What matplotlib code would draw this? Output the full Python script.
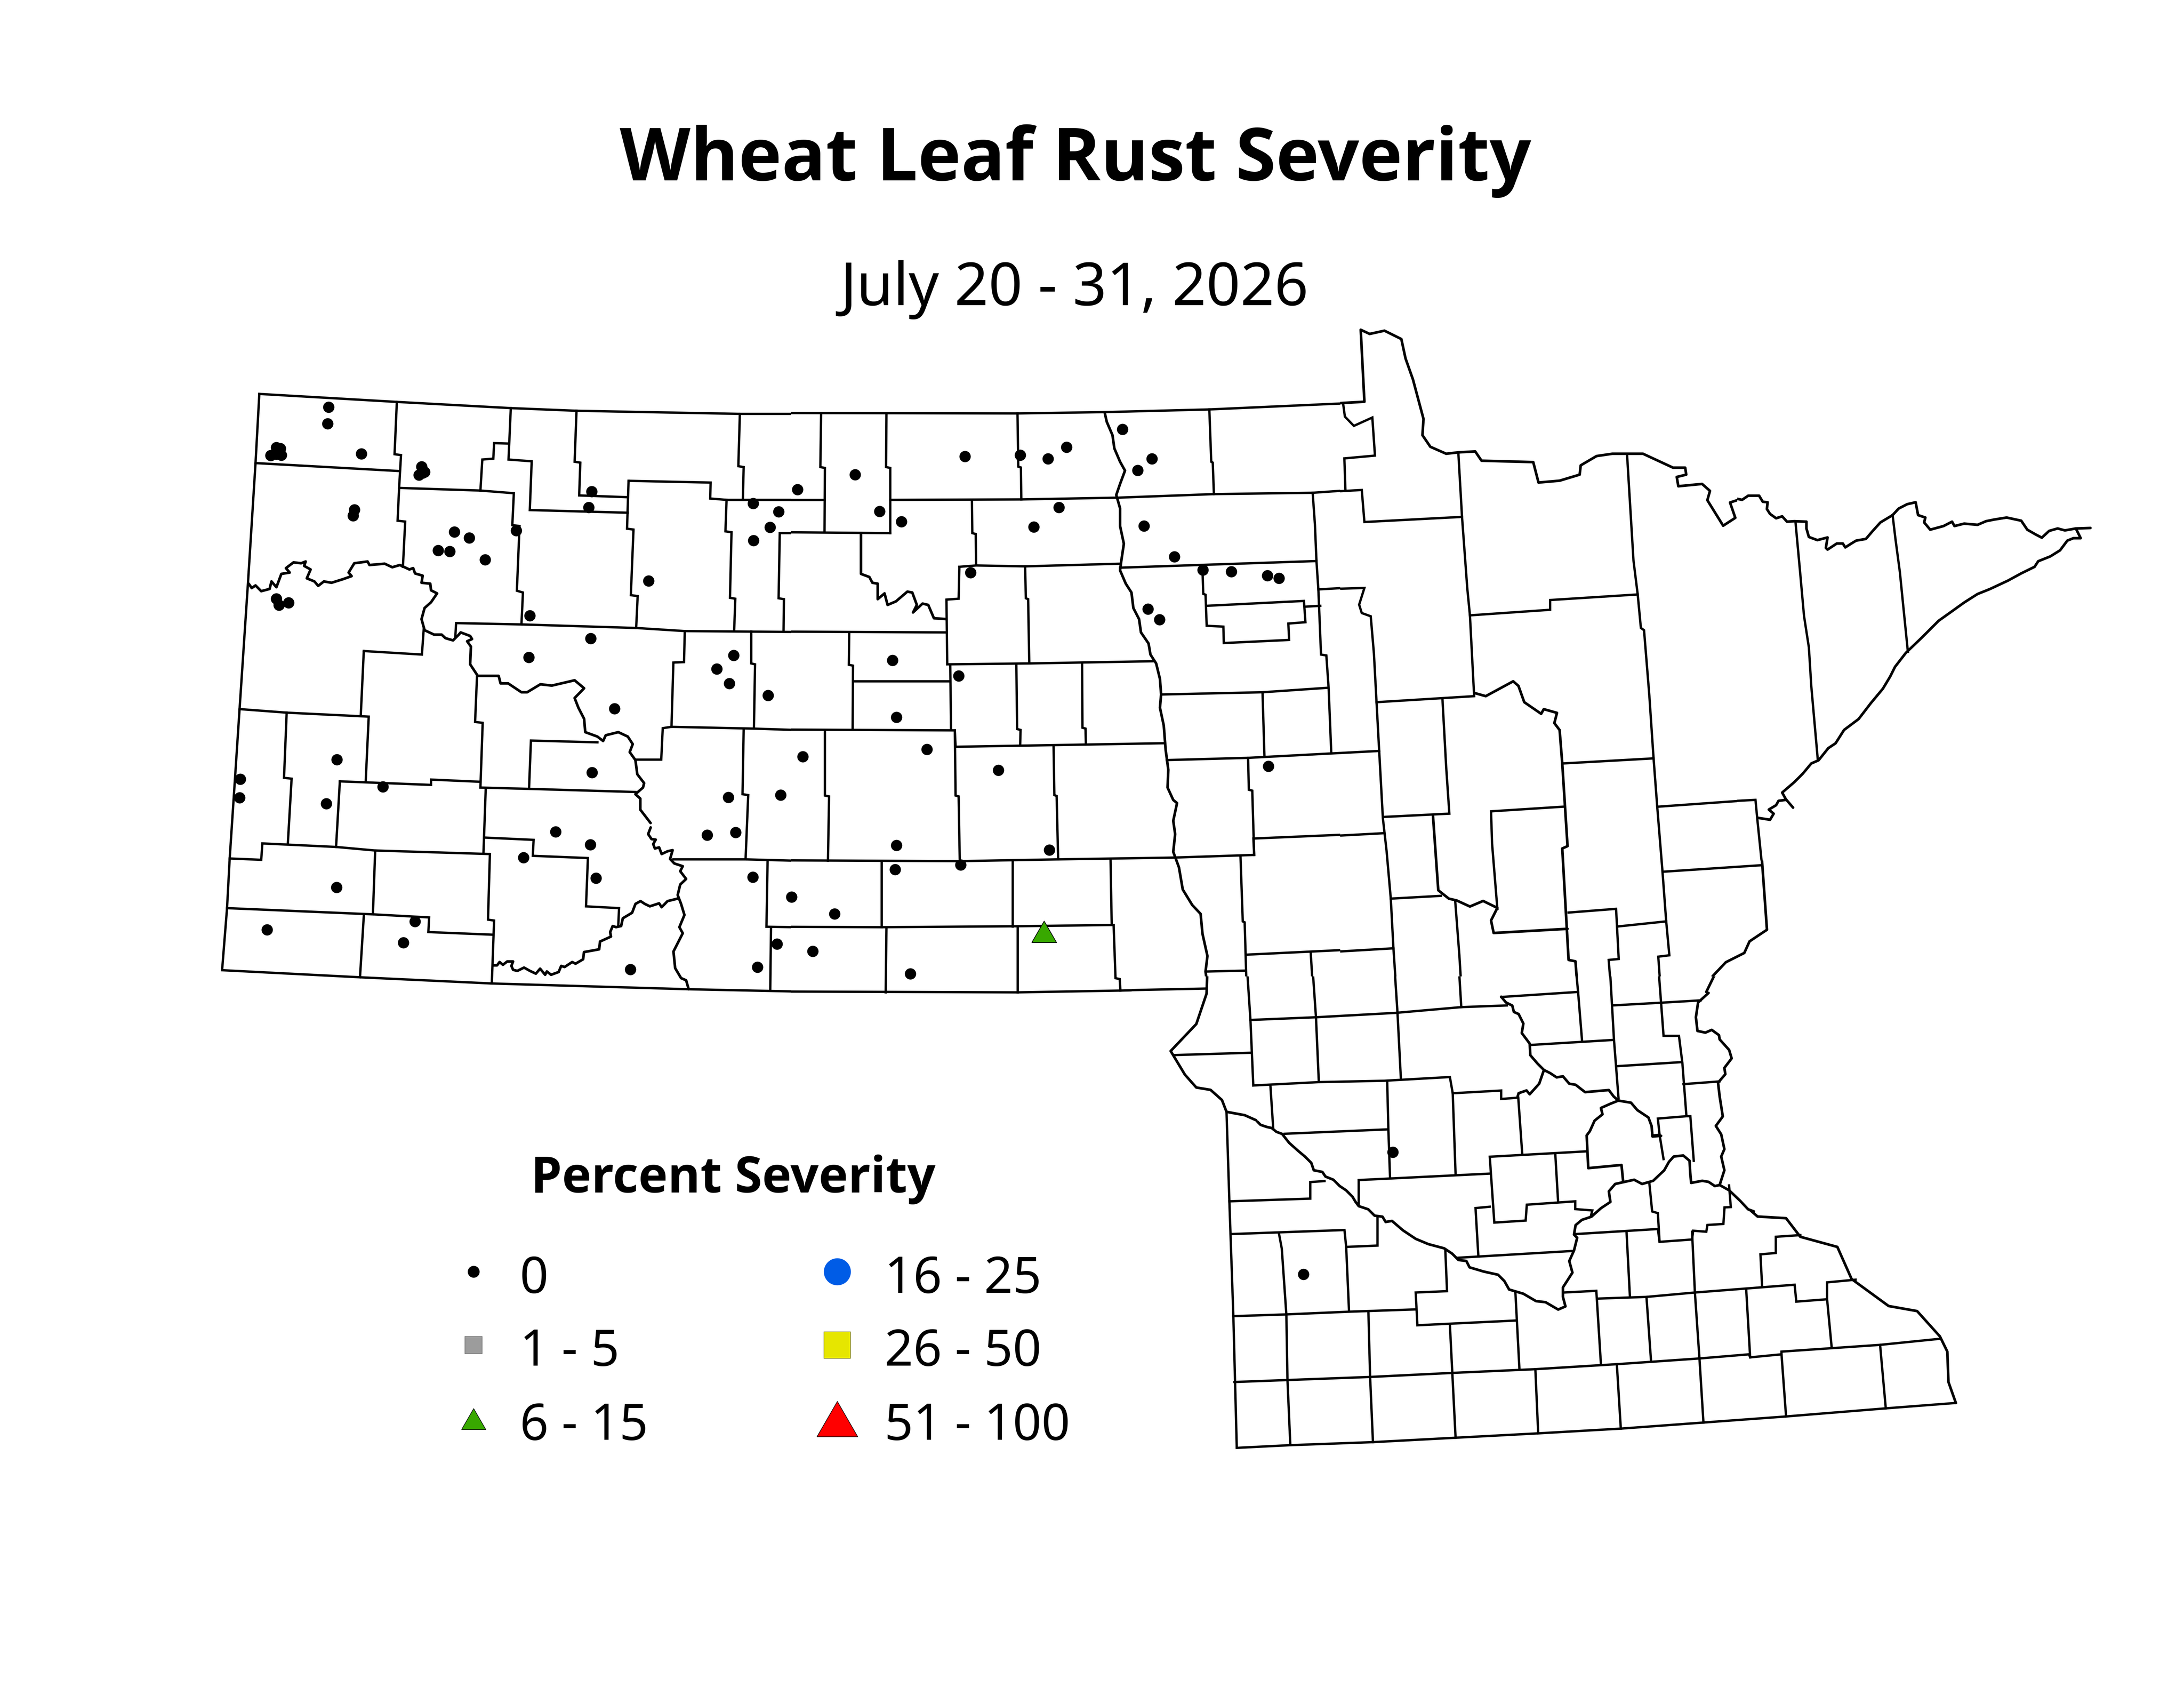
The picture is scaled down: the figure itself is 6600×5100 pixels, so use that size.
import numpy as np
import matplotlib
matplotlib.use('Agg')
import matplotlib.pyplot as plt
from matplotlib.patches import Rectangle

# map outlines were traced in pieces, each piece has its own grid (x0, y0, x scale, y scale)
GRID_W = (600, 1000, 1800 / 1568, 2100 / 1568)
GRID_C = (2300, 1000, 1800 / 1568, 2100 / 1568)
GRID_N = (3900, 950, 2500 / 1568, 2200 / 1568)
GRID_S = (3400, 2900, 2700 / 1568, 1600 / 1568)
GRID_M = (3800, 3000, 1500 / 1568, 1000 / 1568)
GRID_E = (5250, 1450, 1150 / 1568, 1150 / 1568)
GRID_L = (1400, 2500, 800 / 1568, 500 / 1494)

west_lines = [
    [(160,142),(522,160),(822,174),(995,180),(1425,187),(1568,187)],
    [(160,142),(150,298),(130,570),(108,853),(82,1190),(75,1302),(62,1442),(425,1458),(772,1472),(1290,1485),(1568,1490)],
    [(150,298),(528,316)],
    [(522,160),(516,278),(533,280),(528,354),(524,428),(544,430),(538,532)],
    [(528,354),(742,360),(830,366),(826,438),(845,440),(838,586),(854,590),(850,662)],
    [(742,360),(747,290),(776,288),(778,253),(816,254)],
    [(822,174),(816,290),(877,294),(872,404),(1130,410)],
    [(995,180),(990,295),(1005,297),(1002,371),(1130,375)],
    [(1132,338),(1348,342),(1347,378),(1390,381),(1568,381)],
    [(1132,338),(1128,446),(1145,448),(1138,596),(1156,598),(1152,670)],
    [(1425,187),(1421,305),(1435,307),(1433,378)],
    [(1390,381),(1387,452),(1403,454),(1399,602),(1413,604),(1410,676)],
    [(1568,456),(1530,456),(1527,603),(1541,605),(1540,678)],
    [(676,690),(678,659),(850,662),(1152,670),(1280,677),(1568,679)],
    [(1250,1192),(1440,1192),(1568,1195)],
    [(435,722),(588,730),(593,670)],
    [(435,722),(427,868)],
    [(108,853),(232,861),(448,870),(440,1017)],
    [(232,861),(225,1008),(245,1010),(235,1157)],
    [(372,1016),(612,1024),(612,1012),(742,1017)],
    [(372,1016),(362,1164)],
    [(82,1190),(165,1193),(168,1156),(362,1164),(465,1172),(767,1180)],
    [(465,1172),(459,1316)],
    [(75,1302),(459,1316),(607,1323),(605,1356),(776,1362)],
    [(435,1320),(425,1458)],
    [(767,1180),(762,1328),(778,1330),(772,1472)],
    [(756,1033),(750,1178)],
    [(733,780),(728,882),(748,884),(742,1030),(870,1033),(1150,1040)],
    [(1050,928),(875,924),(870,1033)],
    [(756,1143),(882,1148),(880,1184),(1025,1189),(1020,1298),(1107,1302),(1105,1340)],
    [(1280,677),(1278,747),(1250,748),(1245,893),(1222,896),(1218,967),(1150,967)],
    [(1245,893),(1460,897),(1568,900)],
    [(1455,678),(1455,750),(1465,752),(1462,897)],
    [(1435,900),(1432,1045),(1447,1047),(1440,1192)],
    [(1498,1197),(1495,1344),(1568,1345)],
    [(1507,1347),(1505,1488)],
]

# Missouri river / Lake Sakakawea
west_rivers = [
    [(132,570),(140,580),(150,574),(165,587),(187,582),(192,565),(205,578),(218,548),(240,545),(230,535),(250,522),(270,524),
     (282,520),(278,530),(295,538),(285,558),(305,565),(315,575),(330,565),(350,568),(380,560),(403,553),(395,545),(410,524),
     (445,520),(450,528),(490,525),(510,533),(530,528),(555,538),(565,535),(570,547),(590,552),(587,568),(610,570),(612,585),
     (628,592),(612,612),(595,625),(587,650),(595,675),(620,685),(640,685),(650,693),(670,698),(685,685),(690,680),(715,688),
     (720,695),(707,700),(717,712),(715,752),(735,778),(790,778),(795,795),(815,795),(850,815),(865,815),(900,797),(930,800),
     (990,788),(1015,806),(990,828),(1000,850),(1015,875),(1018,905),(1050,915),(1065,925),(1072,912),(1105,905),(1130,915),
     (1143,932),(1135,950),(1150,968),(1155,1000),(1173,1020),(1170,1030),(1150,1045),(1163,1055),(1163,1080),(1190,1110)],
]

lower_rivers = [
    [(1110,0),(1095,60),(1115,105),(1140,110),(1125,150),(1135,190),(1160,180),(1175,240),(1210,215),(1240,205),(1225,285),(1250,325),
     (1300,350),(1285,395),(1320,465),(1285,515),(1270,610),(1290,690),(1310,790),(1280,900),(1300,955),(1245,1120),(1255,1270),
     (1290,1360),(1320,1380),(1335,1460)],
    [(1275,640),(1250,650),(1210,665),(1175,720),(1160,685),(1105,712),(1075,690),(1050,665),(1020,690),(1000,770),(945,820),(935,890),
     (905,900),(885,890),(870,945),(875,985),(810,1030),(805,1100),(770,1110),(715,1125),(710,1190),(665,1230),(645,1215),(600,1260),
     (580,1250),(565,1305),(520,1330),(495,1300),(485,1330),(455,1275),(430,1320),(395,1295),(360,1265),(320,1295),(295,1285),(285,1250),
     (295,1210),(260,1210),(235,1240),(215,1215),(200,1245),(178,1245)],
]

central_lines = [
    [(0,185),(675,186),(905,183),(1180,177),(1568,162)],
    [(158,187),(156,307),(168,309),(167,454)],
    [(330,187),(329,307),(340,309),(340,456)],
    [(675,186),(677,306),(684,308),(685,380)],
    [(0,381),(167,381)],
    [(340,381),(685,380),(940,376),(1192,368),(1452,365),(1568,358)],
    [(1180,177),(1185,295),(1189,297),(1192,368)],
    [(50,454),(340,456)],
    [(50,454),(47,603),(60,605),(60,677)],
    [(555,382),(556,456),(565,458),(566,528)],
    [(522,532),(566,529),(695,531),(945,525)],
    [(945,534),(1150,528),(1462,519)],
    [(522,532),(520,604),(488,606),(490,752),(705,750),(1035,745)],
    [(695,531),(697,603),(703,605),(706,750)],
    [(0,678),(488,680)],
    [(232,680),(231,753),(242,755),(241,899)],
    [(243,790),(497,790)],
    [(498,755),(500,900)],
    [(0,899),(510,901),(512,938),(1060,930)],
    [(510,901),(512,1048),(520,1050),(523,1195)],
    [(168,901),(168,1048),(179,1050),(176,1195)],
    [(0,1194),(523,1196),(782,1192),(1085,1188),(1298,1182),(1296,1145),(1568,1135)],
    [(672,755),(674,898),(683,900),(682,935)],
    [(845,750),(846,895),(854,897),(855,933)],
    [(770,938),(772,1047),(778,1049),(782,1192)],
    [(1056,820),(1320,815),(1490,805)],
    [(1320,815),(1325,958)],
    [(1068,968),(1282,963),(1568,950)],
    [(1282,963),(1284,1035),(1293,1037),(1298,1182)],
    [(1452,365),(1458,437),(1462,519),(1467,583),(1474,730),(1488,732),(1494,805),(1501,952)],
    [(1467,583),(1568,578)],
    [(1432,622),(1472,620)],
    [(1162,540),(1164,593),(1170,595),(1173,665),(1217,667),(1218,704),(1390,697),(1388,660),(1433,657),(1429,609),(1173,620)],
    [(15,1197),(14,1344),(315,1345),(662,1343),(928,1340)],
    [(317,1198),(317,1345)],
    [(662,1198),(662,1343)],
    [(920,1195),(923,1340)],
    [(928,1340),(933,1460),(944,1462),(946,1488)],
    [(28,1347),(25,1490)],
    [(330,1347),(328,1492)],
    [(675,1348),(675,1492)],
    [(0,1490),(675,1492),(946,1488),(1175,1483)],
    [(1262,1185),(1268,1332),(1273,1334),(1278,1480),(1282,1482),(1288,1568)],
    [(1172,1445),(1275,1443)],
    [(1278,1407),(1568,1395)],
    [(1447,1404),(1452,1475),(1456,1477),(1460,1552)],
    [(1288,1556),(1568,1545)],
    [(1538,357),(1535,285),(1568,283)],
    [(1532,165),(1535,190),(1550,208),(1568,214)],
]

central_rivers = [
    [(263,456),(263,548),(285,555),(293,568),(307,570),(307,605),(325,592),(333,618),(355,610),(385,588),(398,590),(410,618),
     (400,635),(425,615),(440,618),(455,648),(488,650)],
    # Red River
    [(905,186),(910,205),(925,235),(930,265),(945,295),(958,315),(945,345),(935,370),(945,400),(945,440),(955,480),(948,520),
     (945,540),(960,570),(975,590),(980,625),(995,650),(1000,680),(1020,705),(1025,730),(1040,750),(1050,785),(1053,820),
     (1050,850),(1060,890),(1065,945),(1072,990),(1070,1030),(1085,1058),(1095,1065),(1085,1105),(1090,1135),(1085,1175),
     (1100,1210),(1110,1260),(1135,1295),(1157,1315),(1162,1360),(1175,1410),(1170,1445),(1177,1490),(1170,1530),(1145,1568)],
]

north_lines = [
    [(318,297),(325,436),(140,447),(135,378),(43,384),(0,384)],
    [(100,195),(103,220),(120,240),(155,222),(160,304),(102,310),(104,378)],
    [(325,436),(335,590),(340,648),(492,636),(492,615),(658,603)],
    [(340,648),(348,822),(163,835)],
    [(638,305),(650,530),(658,603),(664,675),(670,680),(680,820),(688,955),(695,1060),(705,1200),(712,1307),(718,1380),(697,1383),
     (703,1480),(707,1550),(738,1550)],
    [(43,384),(48,530),(55,592),(63,733),(70,805),(76,945)],
    [(0,533),(48,530)],
    [(55,592),(140,589),(130,625),(135,643),(152,650),(158,730),(163,835),(168,940),(175,1085),(182,1155),(190,1258),(195,1365),
     (203,1500),(205,1568)],
    [(0,620),(25,618),(27,665),(0,667)],
    [(27,628),(55,628)],
    [(0,810),(70,805)],
    [(0,950),(168,940)],
    [(0,1128),(178,1117)],
    [(288,830),(295,975),(301,1075),(178,1082)],
    [(190,1258),(285,1252)],
    [(312,1262),(320,1380),(326,1492)],
    [(515,967),(688,956)],
    [(517,1060),(380,1070),(382,1140),(392,1280)],
    [(527,1288),(617,1280),(622,1388),(603,1390),(610,1490),(615,1568)],
    [(620,1318),(712,1307)],
    [(0,1378),(195,1365)],
    [(38,1378),(43,1445),(47,1520),(50,1568)],
    [(0,1518),(203,1500),(412,1487),(397,1470),(545,1458)],
    [(610,1488),(778,1476)],
    [(697,1060),(882,1045),(888,1088)],
    [(707,1200),(893,1186)],
    [(550,1560),(615,1553)],
]

north_rivers = [
    [(0,197),(140,188),(133,33),(150,42),(178,35),(210,53),(218,95),(232,140),(252,225),(250,260),(265,285),(295,300),(318,297),
     (350,295),(362,315),(460,318),(470,362),(510,358),(548,345),(550,325),(580,305),(610,300),(668,300),(725,330),(748,330),
     (750,345),(732,350),(735,370),(780,365),(795,380),(790,400),(820,455),(843,438),(833,405),(860,395)],
    [(270,1080),(280,1240),(300,1258),(315,1262),(340,1275),(365,1263),(392,1278),(380,1305),(385,1332),(525,1323)],
    [(348,815),(370,822),(422,790),(432,800),(443,835),(475,860),(480,850),(505,858),(500,880),(510,895),(515,967),(525,1145),
     (515,1150),(527,1390),(540,1393),(552,1568)],
    [(888,1088),(903,1325),(870,1350),(860,1375),(825,1395),(800,1425),(795,1450),(778,1478),(770,1490),(770,1535),(800,1545),(815,1568)],
    [(397,1470),(430,1510),(440,1550),(450,1568)],
]

# arrowhead, border and north shore
east_lines = [
    [(240,175),(258,370),(275,560),(295,690),(305,850),(332,1155)],
    [(640,145),(652,245),(670,380),(685,530),(703,708)],
    [(0,1322),(75,1318),(82,1392),(100,1568)],
]

east_rivers = [
    [(0,78),(20,82),(45,65),(90,65),(105,90),(125,92),(122,120),(135,140),(160,158),(185,150),(205,172),(235,170),(285,172),(285,200),
     (295,235),(330,248),(372,237),(365,280),(372,287),(410,262),(435,262),(445,278),(470,262),(490,250),(530,243),(560,208),(590,175),
     (640,145),(665,118),(700,100),(735,92),(745,145),(775,155),(770,175),(795,205),(850,190),(885,172),(895,190),(935,180),(990,185),
     (1025,170),(1060,163),(1110,155),(1170,168),(1195,205),(1230,225),(1255,238),(1285,210),(1320,200),(1350,208),(1395,200),(1455,198)],
    [(1395,200),(1415,240),(1385,240),(1360,250),(1330,290),(1290,315),(1240,335),(1225,358),(1170,385),(1115,415),(1040,450),(990,470),(935,505),
     (875,548),(830,580),(760,650),(695,712),(650,770),(630,810),(600,860),(550,920),(500,985),(440,1030),(405,1085),(375,1105),(335,1155),
     (305,1168),(270,1210),(235,1245),(185,1288),(200,1315),(230,1350)],
    [(200,1318),(170,1322),(160,1340),(130,1358),(150,1375),(135,1400),(85,1392)],
]

south_lines = [
    [(196,1445),(290,1437),(435,1428),(580,1415),(725,1402),(870,1388),(1015,1370),(1160,1352),(1335,1328),(1458,1312)],
    [(192,1250),(430,1235),(575,1223),(720,1212),(865,1197),(1010,1180),(1095,1168),(1097,1177),(1152,1168),(1152,1160),(1325,1140),(1430,1122)],
    [(178,450),(183,715),(185,812),(190,1055),(196,1445)],
    [(290,1437),(285,1245),(283,1050),(275,855),(270,810)],
    [(435,1428),(430,1235),(427,1042)],
    [(580,1415),(570,1080)],
    [(725,1402),(720,1212)],
    [(870,1388),(863,1197)],
    [(1015,1370),(1008,1180)],
    [(1160,1352),(1152,1168)],
    [(1335,1328),(1325,1140)],
    [(190,1055),(280,1050),(390,1042),(510,1035)],
    [(562,860),(565,981),(510,985),(513,1082),(685,1068)],
    [(685,985),(692,1210)],
    [(770,985),(827,980),(835,1195)],
    [(830,1003),(915,998),(1000,985),(1175,962),(1178,1012),(1232,1005),(1232,955),(1282,947)],
    [(915,998),(923,1187)],
    [(1000,985),(1008,1180)],
    [(1090,975),(1097,1177)],
    [(1232,1005),(1240,1147)],
    [(1118,968),(1115,872),(1142,868),(1142,820),(1185,815)],
    [(995,805),(1000,985)],
    [(880,805),(886,998)],
    [(790,812),(935,797),(938,835),(995,828),(997,802),(1020,805),(1022,785),(1050,782),(1052,733),(1063,732),(1060,668)],
    [(920,660),(925,745),(935,750),(938,835)],
    [(185,812),(385,800),(388,850),(443,846),(443,760)],
    [(183,715),(325,707),(325,658),(350,655)],
    [(388,850),(393,1040)],
    [(410,725),(410,652),(640,633)],
    [(640,731),(615,735),(620,878)],
    [(585,882),(785,862)],
    [(810,567),(640,583),(648,778),(703,772),(705,725),(790,715),(790,738),(820,742),(818,755)],
    [(755,575),(760,718)],
    [(460,360),(462,500),(465,645)],
    [(280,515),(460,502)],
    [(255,372),(260,500)],
    [(225,372),(340,362),(455,358),(570,347),(575,395),(660,387),(660,412),(690,408),(697,575)],
    [(575,395),(580,635)],
    [(225,372),(220,178),(213,0)],
    [(220,178),(335,170),(475,157),(590,140),(670,135)],
    [(86,282),(222,275)],
    [(340,362),(335,170),(328,0)],
    [(484,352),(478,155),(472,0)],
    [(590,140),(585,0)],
    [(143,35),(212,30)],
    [(0,90),(143,85)],
    [(660,110),(795,95),(802,240)],
    [(795,95),(790,5),(782,0)],
    [(712,252),(858,237)],
    [(850,0),(858,237),(866,410)],
    [(855,135),(940,127),(1010,120)],
    [(935,0),(945,225),(972,225),(978,305),(985,460)],
    [(862,315),(975,303)],
    [(980,368),(1043,360)],
    [(985,463),(935,470),(938,518),(925,520)],
    [(985,463),(992,463),(998,595)],
    [(938,518),(945,590)],
]

south_rivers = [
    [(145,0),(143,100),(125,190),(80,270),(105,340),(125,378),(150,385),(170,415),(178,450),(210,460),(230,475)],
    [(1097,741),(1110,760),(1160,765),(1185,820),(1250,850),(1275,945),(1340,1025),(1390,1040),(1430,1115),(1443,1160),(1445,1250),(1458,1312)],
    [(1055,0),(1033,50),(1020,95)],
]

# Minnesota River, Mississippi and St. Croix around the Twin Cities
metro_rivers = [
    [(0,610),(10,625),(30,635),(45,640),(60,658),(78,668),(100,710),(130,750),(150,775),(170,805),(178,840),(205,848),(215,870),
     (240,885),(260,915),(280,935),(300,965),(310,990),(320,1010),(350,1025),(370,1055),(395,1060),(405,1085),(425,1080),(460,1125),
     (500,1165),(540,1190),(590,1210),(615,1235),(635,1265),(660,1270),(670,1300),(715,1320),(760,1335),(780,1365),(795,1405),
     (840,1425),(880,1460),(910,1465),(950,1500),(973,1485),(965,1440),(965,1395),(995,1325),(985,1270),(1000,1220),(1010,1160),
     (1000,1145),(1005,1100),(1025,1075),(1055,1060),(1085,1020),(1115,990),(1110,940),(1130,905),(1190,885),(1215,905),(1250,890),
     (1285,840),(1300,800),(1315,775),(1345,770),(1365,795),(1367,850),(1370,900),(1405,890),(1425,895),(1445,915),(1460,910),
     (1490,935),(1525,985),(1550,1025),(1568,1035)],
    [(770,18),(785,45),(805,60),(810,90),(825,100),(840,145),(835,190),(860,240),(862,295),(885,335),(905,365),(925,380),(945,400),
     (965,395),(985,430),(1005,435),(1035,470),(1110,460),(1125,490),(1140,510)],
    [(905,365),(890,430),(860,480),(850,462),(825,475),(822,490)],
    [(1140,510),(1180,520),(1200,555),(1235,590),(1245,630),(1248,680),(1275,677)],
    [(1140,510),(1115,525),(1085,545),(1090,575),(1065,605),(1050,655),(1040,675),(1045,830),(1150,815),(1155,890)],
    [(1460,910),(1475,840),(1465,775),(1475,740),(1465,670),(1448,630),(1470,585),(1460,490),(1455,425),(1478,385),(1475,355),
     (1498,310),(1490,270),(1460,220),(1458,200),(1435,175),(1415,188),(1390,180),(1385,115),(1392,45),(1425,0)],
]

# survey sites, 0 percent severity
sites_west = [(342,172),(340,209),(429,277),(205,263),(215,265),(190,281),(218,280),(205,278),(587,306),(595,318),(580,325),(590,320),
              (410,403),(407,417),(673,453),(713,467),(631,495),(661,497),(754,516),(836,450),(205,604),(237,613),(212,618),
              (872,642),(1035,362),(1027,398),(1185,564),(869,736),(1032,694),(1095,852),(1409,732),(1364,762),(1397,795),(1499,822),
              (1460,389),(1527,408),(1504,443),(1461,473),(364,967),(336,1066),(110,1011),(108,1053),(485,1028),(1036,996),(940,1130),
              (1031,1159),(855,1188),(1046,1234),(1395,1052),(1339,1137),(1414,1131),(1532,1047),(363,1255),(180,1351),(570,1332),
              (539,1380),(1137,1440),(1459,1232),(1523,1383),(1471,1435)]
sites_central = [(96,358),(247,324),(312,407),(369,430),(537,283),(682,280),(755,288),(804,262),(951,222),(1029,288),(991,314),
                 (784,398),(718,442),(1008,440),(1088,509),(551,545),(1163,539),(1238,543),(1333,552),(1363,558),(1018,627),(1049,651),
                 (346,743),(520,778),(356,871),(110,960),(436,944),(625,991),(1335,982),(356,1160),(759,1171),(525,1204),(353,1215),
                 (80,1277),(193,1315),(136,1399),(393,1450)]
sites_south = [(470,569),(313,931)]
# 6 - 15 percent
sites_green = [(745,1355)]

legend_title = 'Percent Severity'
legend_labels = ['0', '1 - 5', '6 - 15', '16 - 25', '26 - 50', '51 - 100']
legend_colors = ['black', '#9C9C9C', '#38A800', '#005CE6', '#E6E600', '#FF0000']
legend_edges = ['black', '#6E6E6E', 'black', '#005CE6', '#6E6E00', 'black']
legend_markers = ['o', 's', 'tri', 'o', 's', 'tri']
legend_sizes = [4.1, 6.2, 8.8, 9.6, 9.6, 14.8]

TRI = [(-1, -0.866), (1, -0.866), (0, 0.866), (-1, -0.866)]
FONT = 'Noto Sans'
BOLD_FONT = 'Open Sans'


def to_px(points, grid):
    x0, y0, sx, sy = grid
    pts = np.array(points, dtype=float)
    return x0 + pts[:, 0] * sx, y0 + pts[:, 1] * sy


def draw_lines(ax, lines, grid, clip, rivers=False):
    for line in lines:
        x, y = to_px(line, grid)
        if rivers:
            l, = ax.plot(x, y, color='black', lw=0.95, solid_joinstyle='round', solid_capstyle='round', zorder=2)
        else:
            l, = ax.plot(x, y, color='black', lw=0.85, solid_joinstyle='miter', solid_capstyle='projecting', zorder=2)
        l.set_clip_path(Rectangle((clip[0], clip[1]), clip[2] - clip[0], clip[3] - clip[1], transform=ax.transData))


fig = plt.figure(figsize=(11, 8.5), dpi=600)
ax = fig.add_axes([0, 0, 1, 1])
ax.set_xlim(0, 6600)
ax.set_ylim(5100, 0)
ax.axis('off')

clip_w = (0, 0, 2390, 5100)
clip_c1 = (2390, 0, 3420, 5100)
clip_c2 = (3420, 0, 4050, 2950)
clip_n1 = (4050, 0, 5250, 2950)
clip_n2 = (5250, 2600, 6600, 2950)
clip_e = (5250, 0, 6600, 2600)
clip_s = (3420, 2950, 6600, 5100)

draw_lines(ax, west_lines, GRID_W, clip_w)
draw_lines(ax, west_rivers, GRID_W, clip_w, rivers=True)
draw_lines(ax, lower_rivers, GRID_L, clip_w, rivers=True)
for clip in (clip_c1, clip_c2):
    draw_lines(ax, central_lines, GRID_C, clip)
    draw_lines(ax, central_rivers, GRID_C, clip, rivers=True)
for clip in (clip_n1, clip_n2):
    draw_lines(ax, north_lines, GRID_N, clip)
    draw_lines(ax, north_rivers, GRID_N, clip, rivers=True)
draw_lines(ax, east_lines, GRID_E, clip_e)
draw_lines(ax, east_rivers, GRID_E, clip_e, rivers=True)
draw_lines(ax, south_lines, GRID_S, clip_s)
draw_lines(ax, south_rivers, GRID_S, clip_s, rivers=True)
draw_lines(ax, metro_rivers, GRID_M, clip_s, rivers=True)

for sites, grid in [(sites_west, GRID_W), (sites_central, GRID_C), (sites_south, GRID_S)]:
    x, y = to_px(sites, grid)
    ax.plot(x, y, 'o', color='black', ms=4.1, mew=0, zorder=3)
x, y = to_px(sites_green, GRID_C)
ax.plot(x, y, marker=TRI, ls='none', mfc='#38A800', mec='black', mew=0.25, ms=9.0, zorder=3)

ax.text(3250, 545, 'Wheat Leaf Rust Severity', ha='center', va='baseline', fontsize=26.5, fontweight='bold', family=BOLD_FONT)
ax.text(3247, 922, 'July 20 - 31, 2026', ha='center', va='baseline', fontsize=21.6, family=FONT)
ax.text(2216, 3603, legend_title, ha='center', va='baseline', fontsize=18, fontweight='bold', family=BOLD_FONT)

# legend, two columns of three
col_x = [1431, 2530]
text_x = [1571, 2673]
row_y = [3842, 4064, 4287]
base_y = [3906, 4126, 4350]
for i, label in enumerate(legend_labels):
    col, row = i // 3, i % 3
    marker = TRI if legend_markers[i] == 'tri' else legend_markers[i]
    ax.plot([col_x[col]], [row_y[row]], marker=marker, ls='none', mfc=legend_colors[i], mec=legend_edges[i],
            mew=0.2, ms=legend_sizes[i], zorder=3)
    ax.text(text_x[col], base_y[row], label, ha='left', va='baseline', fontsize=18.2, family=FONT)

fig.savefig('out.png', dpi=600)
